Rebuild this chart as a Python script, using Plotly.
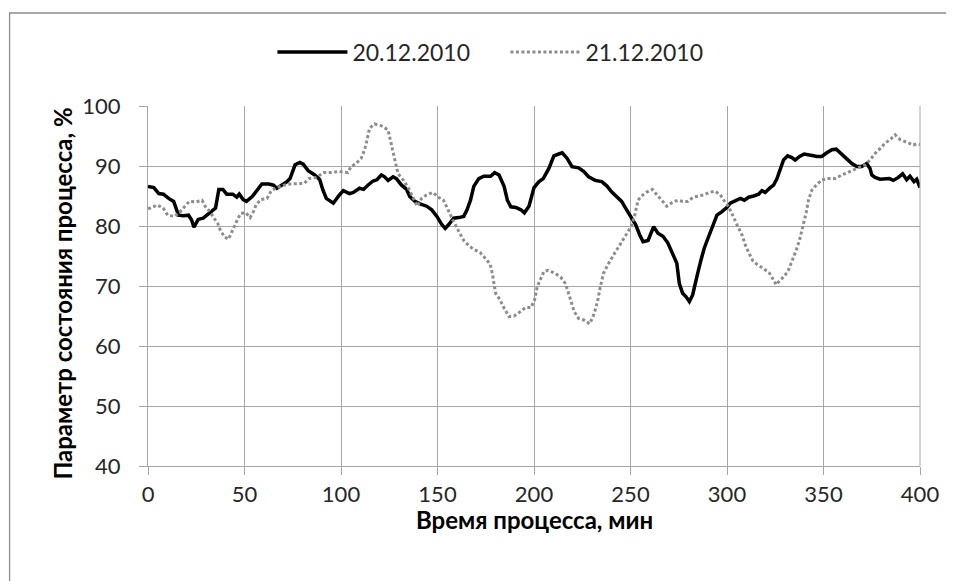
import plotly.graph_objects as go

# ---- data ----
t1 = [0, 3, 5.6, 8, 10.7, 13.3, 15.8, 18.4, 21, 22.6, 23.8, 26, 28.6, 31, 33.3, 35, 36.7, 38.8,
      40.8, 43.9, 46, 47.3, 49.3, 51, 54, 57, 59, 62.6, 65, 66.8, 69.4, 72, 73.6, 76.2, 78.7, 80.4,
      83, 86.4, 89, 90.6, 92.4, 96, 99, 101.2, 104.4, 106.4, 109.6, 111.7, 113.9, 116.6, 118.6,
      120.9, 122.6, 124.4, 127, 128.7, 131.4, 134, 135.7, 138.3, 141, 144.4, 147, 149.7, 152.3,
      154, 155.7, 158.4, 161, 163.6, 165.3, 167.1, 168.8, 171.4, 174, 177.5, 179.6, 181.9, 184.5,
      186.2, 188, 190.6, 193.2, 195, 197.4, 200, 202.6, 204.8, 207.7, 210.3, 212.8, 214.6, 217.1,
      219.7, 223.1, 225.7, 228.3, 231.7, 235.1, 237.7, 240.2, 242.8, 245.4, 248, 250.5, 252.7,
      254.8, 256.5, 259.1, 260.8, 262, 264.2, 266.8, 269.3, 271.9, 274, 275.3, 277, 278.8, 280.5,
      282.2, 283.6, 284.8, 286.5, 288.2, 290.8, 292.8, 294.8, 297.4, 300, 301.7, 304.3, 306.9,
      309, 311.2, 313.8, 316.4, 318.1, 319.8, 322.1, 324.1, 325.9, 327.6, 329.3, 331.4, 333.6,
      335.3, 337.6, 340, 342.2, 344.8, 346.6, 349.1, 351.7, 354.3, 356.6, 359, 362.1, 364.7,
      367.2, 369.8, 372.4, 374.1, 375, 376.7, 379.3, 381.9, 384.1, 386.2, 388.8, 391, 393.1,
      394.8, 396.9, 398.3, 400]
v1 = [86.6, 86.4, 85.4, 85.3, 84.6, 84.1, 81.8, 81.7, 81.8, 81.0, 79.8, 81.1, 81.3, 82.0, 82.7,
      83.0, 86.1, 86.1, 85.3, 85.3, 84.8, 85.3, 84.4, 84.1, 84.9, 86.1, 87.0, 87.0, 86.8, 86.3,
      86.8, 87.4, 87.9, 90.2, 90.6, 90.3, 89.2, 88.5, 87.7, 86.0, 84.6, 83.8, 85.1, 85.9, 85.4,
      85.6, 86.3, 86.1, 86.8, 87.5, 87.7, 88.5, 88.2, 87.6, 88.2, 87.9, 86.8, 86.1, 84.9, 84.1,
      83.7, 83.3, 82.7, 81.6, 80.2, 79.6, 80.2, 81.3, 81.4, 81.6, 82.7, 84.3, 86.6, 87.9, 88.3,
      88.3, 88.9, 88.5, 86.6, 84.3, 83.2, 83.1, 82.7, 82.2, 83.3, 86.4, 87.4, 87.9, 89.6, 91.7,
      92.0, 92.2, 91.3, 89.9, 89.7, 89.1, 88.2, 87.6, 87.4, 86.7, 85.7, 84.9, 84.1, 82.7, 81.4,
      80.2, 78.5, 77.4, 77.6, 78.9, 79.9, 78.8, 78.3, 77.2, 75.4, 73.8, 70.4, 68.8, 68.2, 67.4,
      68.5, 70.2, 72.1, 74.3, 76.3, 78.5, 80.2, 81.8, 82.4, 83.1, 83.8, 84.2, 84.6, 84.3, 84.8,
      85.0, 85.3, 85.9, 85.6, 86.3, 86.8, 87.9, 89.3, 91.0, 91.7, 91.4, 91.0, 91.6, 92.0, 91.8,
      91.7, 91.6, 91.6, 92.2, 92.7, 92.8, 92.1, 91.1, 90.4, 89.9, 89.9, 90.4, 89.6, 88.5, 88.1,
      87.8, 87.8, 87.9, 87.6, 88.1, 88.7, 87.7, 88.3, 87.4, 87.8, 86.4]

t2 = [0, 1.4, 4.8, 7.8, 10.2, 13.8, 16.7, 19.2, 21.4, 24.8, 28, 29.8, 32, 34, 36.2, 37.6, 39.6,
      41.7, 43, 44.7, 46.4, 48, 50.7, 52.9, 54.6, 56, 58.3, 61.7, 63.9, 66.8, 70.2, 73.6, 77, 81,
      83.3, 87.2, 91.2, 94.9, 99, 103.5, 105.2, 107.8, 110.5, 112.2, 113.1, 114.8, 117.4, 120.9,
      124.4, 126.1, 127.9, 129.6, 132.2, 134.8, 137.5, 139.5, 141.8, 144.4, 147.6, 150.5, 153.1,
      154.5, 157.5, 161, 163.6, 166.2, 168.8, 172, 174.9, 177.2, 178.4, 180.1, 182.4, 184.5,
      187.1, 189.7, 192.8, 195.5, 198.4, 200.3, 201.7, 203.4, 205.1, 207.2, 211.1, 214, 216.3,
      217.6, 218.8, 220.9, 223.1, 226, 228.8, 230.5, 231.7, 232.9, 234.2, 236, 238, 239.7, 242,
      244.2, 246.2, 248, 250.5, 252.2, 253, 253.9, 255.7, 258.2, 261.3, 263.7, 265.9, 268.8,
      271.6, 274.5, 277.1, 279.6, 282.5, 285.6, 288.2, 290.8, 293.8, 296.6, 298.3, 300.9, 303.1,
      305.5, 307.8, 309.5, 311.2, 313.4, 315.9, 319, 322.1, 325.5, 327.6, 329.7, 331.9, 334.1,
      335.9, 337.6, 339.3, 341, 342.2, 344, 346.2, 349.1, 352.6, 356, 359.5, 363.8, 368.1, 371.6,
      374.1, 376.7, 379.3, 381.9, 384.5, 387.1, 389.7, 393.1, 396.6, 398.3, 400]
v2 = [82.9, 83.0, 83.5, 83.0, 81.8, 81.6, 82.4, 83.3, 84.1, 84.0, 84.3, 83.2, 82.4, 81.4, 80.4,
      79.2, 78.2, 77.8, 78.8, 79.9, 81.1, 82.1, 82.2, 81.4, 82.4, 83.5, 84.4, 84.6, 85.9, 86.4,
      86.8, 87.0, 87.1, 87.1, 87.9, 88.1, 88.9, 88.9, 89.1, 88.9, 89.9, 90.4, 91.3, 92.7, 93.8,
      96.3, 97.0, 96.7, 96.0, 93.8, 91.0, 88.7, 87.7, 86.4, 84.6, 83.3, 84.6, 85.2, 85.6, 84.8,
      84.3, 83.3, 81.3, 79.1, 77.6, 76.7, 76.1, 75.6, 74.6, 73.7, 72.1, 68.8, 67.7, 66.3, 64.9,
      65.0, 65.7, 66.4, 66.4, 67.7, 69.9, 71.3, 72.4, 72.6, 72.1, 71.4, 70.4, 69.1, 67.9, 65.7,
      64.6, 64.3, 63.7, 64.8, 66.0, 67.4, 69.6, 72.1, 73.4, 74.4, 75.6, 76.7, 77.8, 78.8, 80.0,
      81.8, 83.2, 84.3, 85.0, 85.6, 86.1, 85.2, 84.2, 83.3, 83.9, 84.3, 84.1, 84.1, 84.8, 85.0,
      85.2, 85.6, 85.8, 85.2, 84.3, 83.2, 81.8, 80.0, 78.5, 76.8, 75.6, 74.2, 73.5, 72.9, 72.1,
      70.2, 71.0, 71.6, 72.7, 74.4, 76.0, 77.7, 79.8, 82.2, 84.3, 86.0, 86.8, 87.7, 87.9, 87.9,
      88.5, 89.1, 89.6, 90.2, 91.0, 92.1, 92.9, 93.8, 94.4, 95.2, 94.4, 93.9, 93.5, 93.7, 93.6]

names = ["20.12.2010", "21.12.2010"]
x_ticks = [0, 50, 100, 150, 200, 250, 300, 350, 400]
y_ticks = [40, 50, 60, 70, 80, 90, 100]
x_title = "Время процесса, мин"
y_title = "Параметр состояния процесса, %"

FONT = "Lato, 'Open Sans', sans-serif"
W, H = 954, 581
OFF = 8  # page body margin
# plot area in page pixels
PX0, PX1, PY0, PY1 = 147.5, 920, 106, 466
L = PX0 - OFF
T = PY0 - OFF
R = W - (PX1 - OFF)
B = H - (PY1 - OFF)
pw, ph = PX1 - PX0, PY1 - PY0

def px(x):  # page x -> paper
    return (x - PX0) / pw

def py(y):  # page y -> paper
    return (PY1 - y) / ph

fig = go.Figure()
fig.add_trace(go.Scatter(x=t1, y=v1, mode="lines", name=names[0],
                         line=dict(color="#000000", width=3.5)))
fig.add_trace(go.Scatter(x=t2, y=v2, mode="lines", name=names[1],
                         line=dict(color="#8c8c8c", width=3, dash="3px,2.5px")))

grid = "#a6a6a6"
txt = "#262626"
fig.update_layout(
    width=W, height=H,
    margin=dict(l=L, r=R, t=T, b=B, autoexpand=False),
    paper_bgcolor="white", plot_bgcolor="white",
    font=dict(family=FONT, size=22, color=txt),
    showlegend=True,
    legend=dict(orientation="h", x=px(272), xanchor="left", y=py(52), yanchor="middle",
                font=dict(size=23, color=txt), bgcolor="rgba(0,0,0,0)",
                itemwidth=70, entrywidth=148, entrywidthmode="pixels", tracegroupgap=0),
    xaxis=dict(range=[0, 400], tickvals=x_ticks, ticktext=[str(v) for v in x_ticks],
               showgrid=True, gridcolor=grid, gridwidth=1, zeroline=False,
               showline=True, linecolor=grid, linewidth=1,
               ticks="outside", ticklen=8, tickcolor=grid, ticklabelstandoff=1,
               tickfont=dict(size=22, color=txt)),
    yaxis=dict(range=[40, 100], tickvals=y_ticks, ticktext=[str(v) for v in y_ticks],
               showgrid=True, gridcolor=grid, gridwidth=1, zeroline=False,
               showline=True, linecolor=grid, linewidth=1,
               ticks="outside", ticklen=8, tickcolor=grid, ticklabelstandoff=14,
               tickfont=dict(size=22, color=txt)),
    annotations=[
        dict(text=f"<b>{x_title}</b>", xref="paper", yref="paper", x=0.5, y=py(520),
             xanchor="center", yanchor="middle", showarrow=False,
             font=dict(size=24, color="#000000")),
        dict(text=f"<b>{y_title}</b>", xref="paper", yref="paper", x=px(61), y=py(106),
             xanchor="center", yanchor="top", showarrow=False, textangle=-90,
             font=dict(size=24, color="#000000")),
    ],
    shapes=[
        dict(type="line", xref="paper", yref="paper", x0=1, x1=1,
             y0=0, y1=1, line=dict(color=grid, width=1)),
        dict(type="rect", xref="paper", yref="paper", x0=px(9), y0=py(13), x1=px(980), y1=py(610),
             line=dict(color="#8c8c8c", width=1.3), fillcolor="rgba(0,0,0,0)", layer="below"),
    ],
)

fig.write_html("out.html")
